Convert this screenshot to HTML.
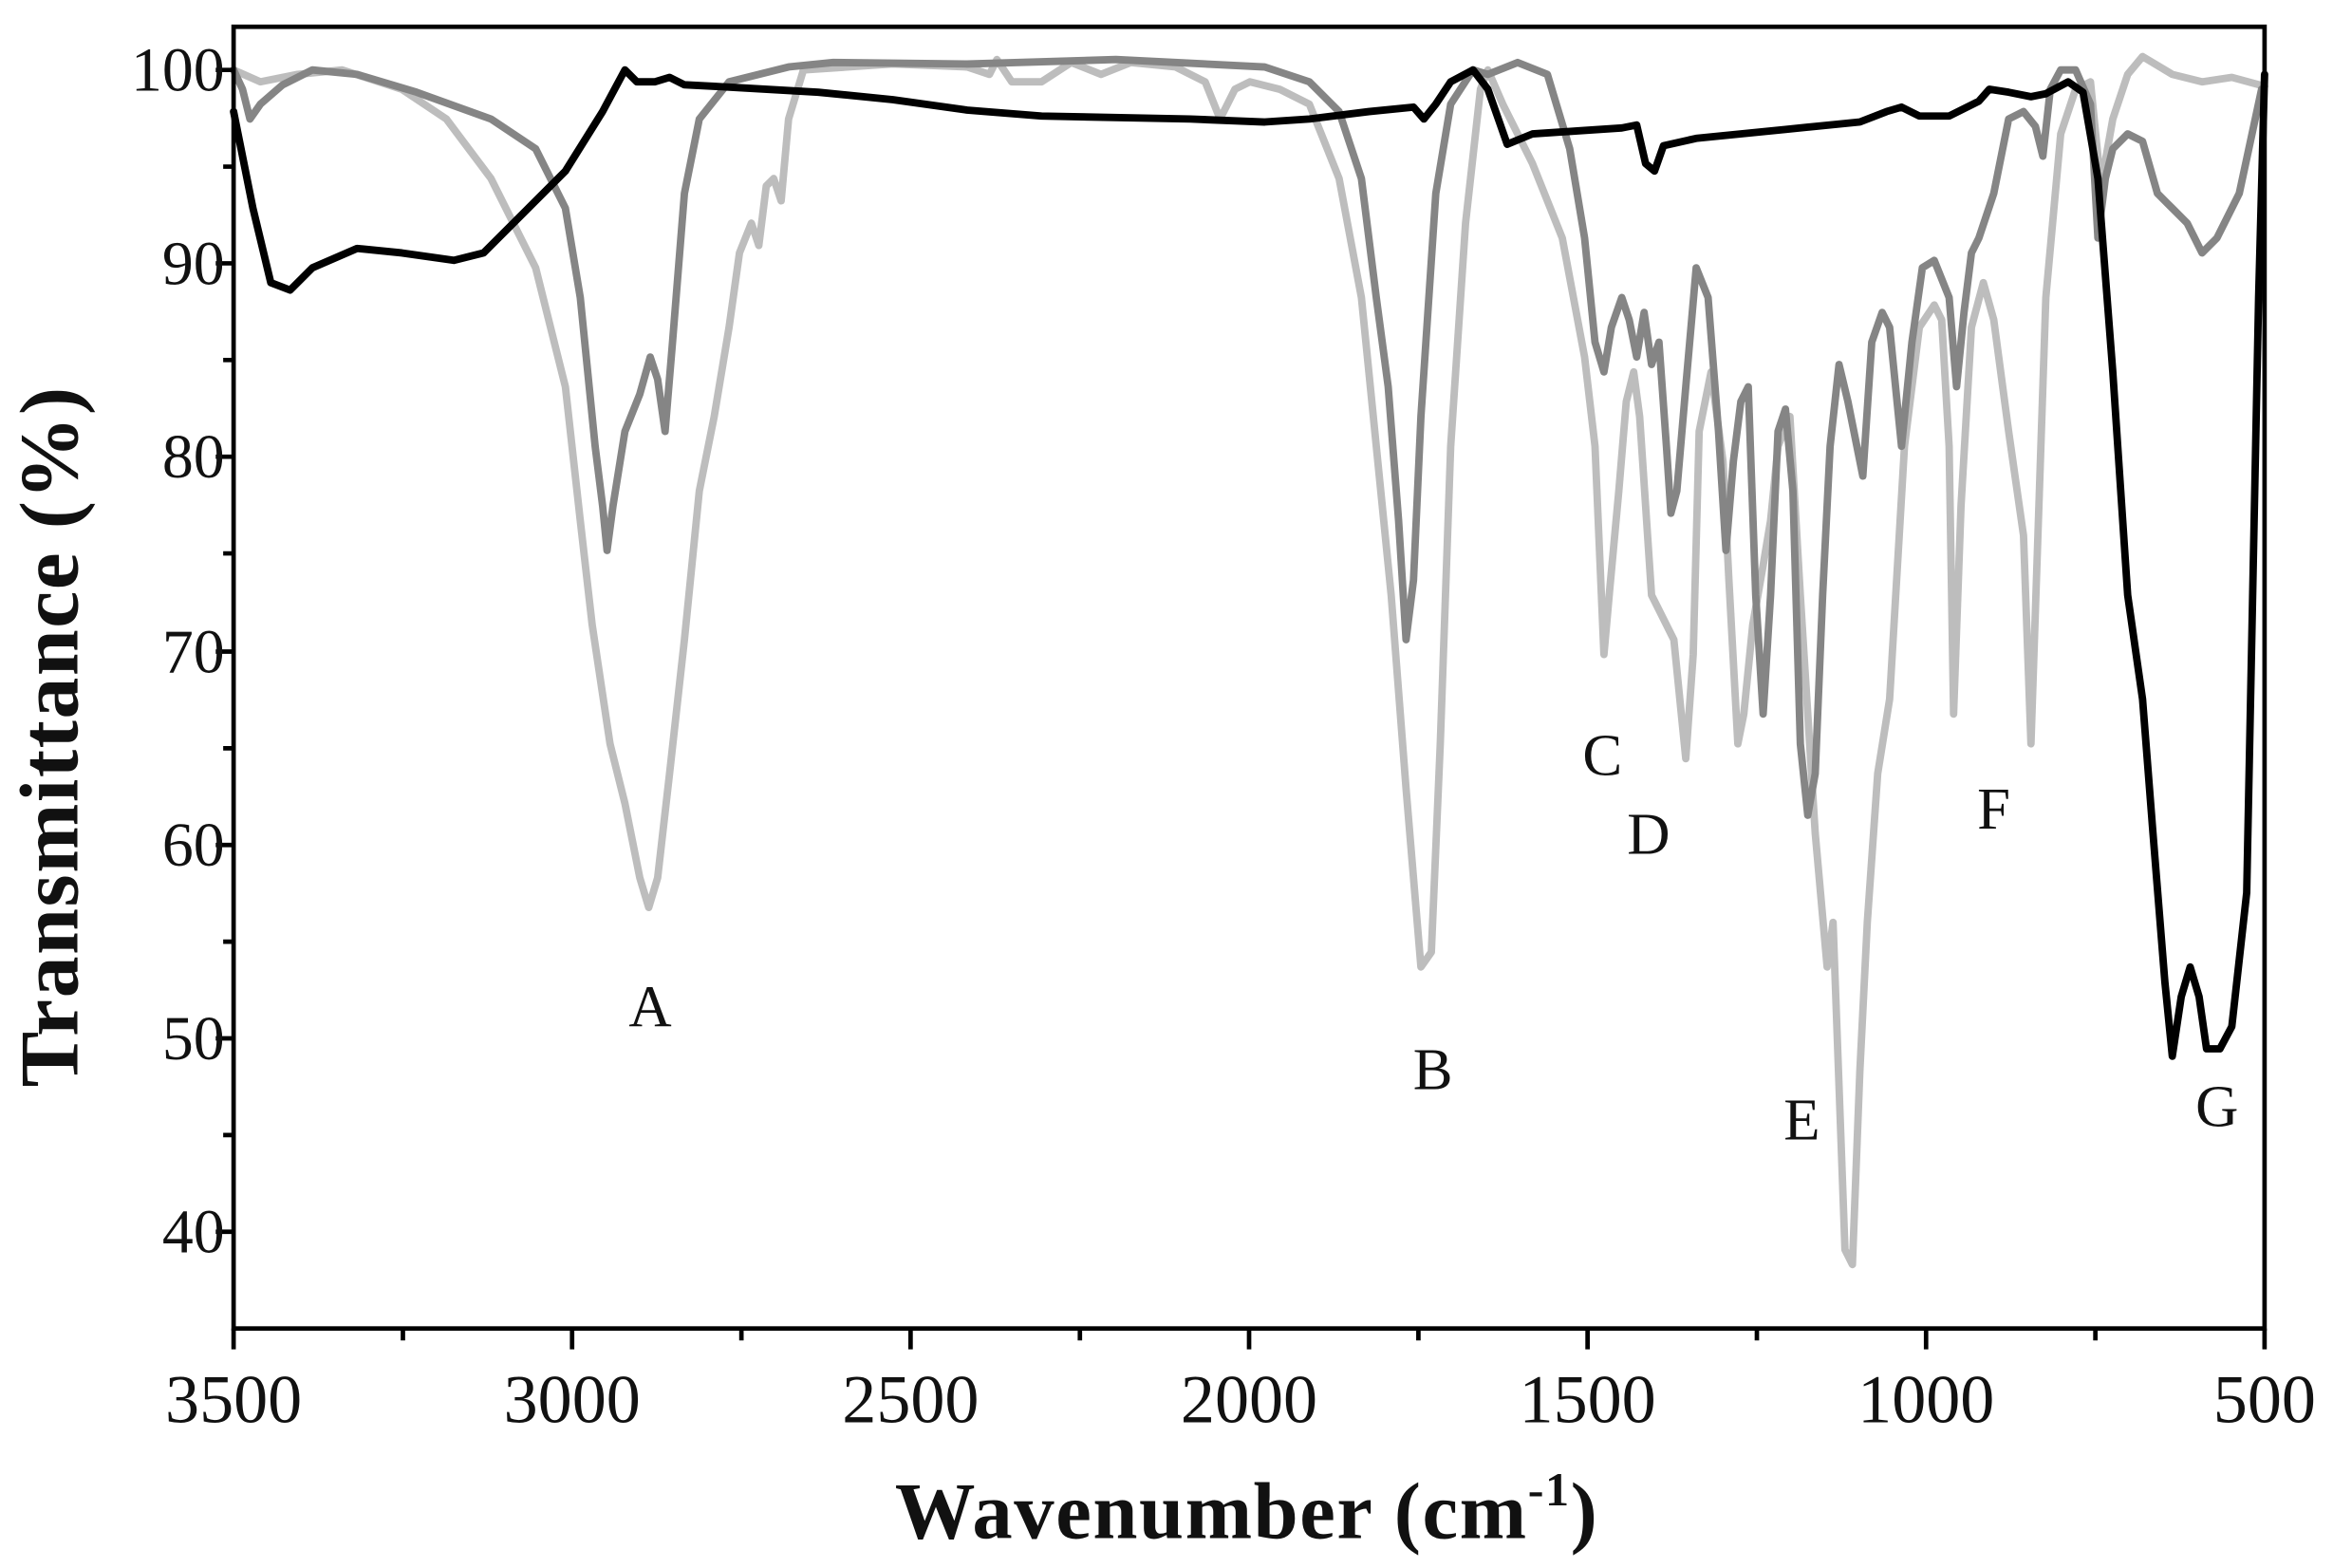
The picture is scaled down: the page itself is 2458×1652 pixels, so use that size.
<!DOCTYPE html>
<html><head><style>html,body{margin:0;padding:0;background:#fff}svg{display:block}</style></head>
<body>
<svg width="2458" height="1652" viewBox="0 0 1568 1054" preserveAspectRatio="none" xmlns="http://www.w3.org/2000/svg">
<rect width="1568" height="1054" fill="#fff"/>
<g fill="none" stroke-linejoin="round" stroke-linecap="round" stroke-width="5">
<polyline stroke="#bdbdbd" points="157,47 175,55 200,50 230,47 270,60 300,80 330,120 360,180 380,260 390,350 398,420 410,500 420,540 430,590 436,610 442,590 450,520 460,430 470,330 480,280 490,220 497,170 505,150 510,165 515,125 520,120 525,135 530,80 540,47 600,43 650,45 665,50 670,40 680,55 700,55 720,42 740,50 760,42 790,45 810,55 820,80 830,60 840,55 860,60 880,70 900,120 915,200 925,300 935,400 945,530 955,650 962,640 968,500 975,300 985,150 995,60 1000,47 1010,70 1030,110 1050,160 1065,240 1072,300 1078,440 1082,395 1088,330 1093,270 1098,250 1102,280 1110,400 1125,430 1133,510 1138,440 1142,290 1150,250 1158,310 1162,390 1168,500 1172,480 1178,420 1185,380 1190,350 1195,300 1203,280 1210,400 1220,560 1228,650 1232,620 1240,840 1245,850 1250,720 1255,620 1262,520 1270,470 1280,300 1290,220 1300,205 1305,215 1310,300 1313,480 1318,340 1325,220 1333,190 1340,215 1350,290 1360,360 1365,500 1370,350 1375,200 1385,90 1395,60 1405,55 1412,125 1420,80 1430,50 1440,38 1460,50 1480,55 1500,52 1522,58"/>
<polyline stroke="#858585" points="157,47 163,60 168,80 175,70 190,57 210,47 240,50 280,62 330,80 360,100 380,140 390,200 400,300 405,340 408,370 412,340 420,290 430,265 437,240 442,255 447,290 452,230 460,130 470,80 490,55 530,45 560,42 650,43 750,40 850,45 880,55 900,75 915,120 925,200 933,260 940,350 945,430 950,390 955,280 965,130 975,70 990,47 1000,50 1020,42 1040,50 1055,100 1065,160 1072,230 1078,250 1083,220 1090,200 1095,215 1100,240 1105,210 1110,245 1115,230 1120,300 1123,345 1127,330 1133,260 1140,180 1148,200 1155,290 1160,370 1165,310 1170,270 1175,260 1180,400 1185,480 1190,400 1195,290 1200,275 1205,330 1210,500 1215,548 1220,520 1225,400 1230,300 1236,245 1242,270 1248,300 1252,320 1258,230 1265,210 1270,220 1278,300 1285,230 1292,180 1300,175 1310,200 1315,260 1320,210 1325,170 1330,160 1340,130 1350,80 1360,75 1368,85 1373,105 1378,60 1385,47 1395,47 1405,70 1410,160 1415,120 1420,100 1430,90 1440,95 1450,130 1460,140 1470,150 1480,170 1490,160 1505,130 1520,60"/>
<polyline stroke="#000" points="157,75 170,140 182,190 195,195 210,180 240,167 270,170 305,175 325,170 345,150 380,115 405,75 420,47 428,55 440,55 450,52 460,57 480,58 550,62 600,67 650,74 700,78 800,80 850,82 880,80 920,75 950,72 957,80 965,70 975,55 990,47 1000,60 1013,97 1030,90 1060,88 1090,86 1100,84 1106,110 1112,115 1118,98 1140,93 1200,87 1250,82 1268,75 1278,72 1290,78 1310,78 1330,68 1337,60 1350,62 1365,65 1375,63 1390,55 1400,62 1410,120 1420,250 1430,400 1440,470 1447,560 1455,660 1460,710 1466,670 1472,650 1478,670 1483,705 1492,705 1500,690 1510,600 1518,200 1522,50"/>
</g>
<g stroke="#000" stroke-width="3" fill="none">
<rect x="157" y="18" width="1365" height="875"/>
<path d="M157,47h-12M157,177h-12M157,307h-12M157,438h-12M157,568h-12M157,698h-12M157,828h-12M157,112h-7M157,242h-7M157,372h-7M157,503h-7M157,633h-7M157,763h-7"/>
<path d="M157,893v14M384.5,893v14M612,893v14M839.5,893v14M1067,893v14M1294.5,893v14M1522,893v14M270.8,893v8M498.3,893v8M725.8,893v8M953.3,893v8M1180.8,893v8M1408.3,893v8"/>
</g>
<g font-family="Liberation Serif, serif" font-size="42" fill="#111" text-anchor="end">
<text x="151" y="61">100</text><text x="151" y="191">90</text><text x="151" y="321">80</text><text x="151" y="452">70</text><text x="151" y="582">60</text><text x="151" y="712">50</text><text x="151" y="842">40</text>
</g>
<g font-family="Liberation Serif, serif" font-size="46" fill="#111" text-anchor="middle">
<text x="157" y="956">3500</text><text x="384.5" y="956">3000</text><text x="612" y="956">2500</text><text x="839.5" y="956">2000</text><text x="1067" y="956">1500</text><text x="1294.5" y="956">1000</text><text x="1522" y="956">500</text>
</g>
<g font-family="Liberation Serif, serif" font-size="40" fill="#111" text-anchor="middle">
<text x="437" y="690">A</text><text x="963" y="732">B</text><text x="1077" y="521">C</text><text x="1108" y="574">D</text><text x="1211" y="766">E</text><text x="1340" y="557">F</text><text x="1490" y="757">G</text>
</g>
<text x="838" y="1034" font-family="Liberation Serif, serif" font-weight="bold" font-size="54" text-anchor="middle" fill="#111" letter-spacing="1">Wavenumber (cm<tspan font-size="32" dy="-22">-1</tspan><tspan dy="22">)</tspan></text>
<text transform="translate(52,495) rotate(-90)" font-family="Liberation Serif, serif" font-weight="bold" font-size="56" text-anchor="middle" fill="#111" letter-spacing="1">Transmittance (%)</text>
</svg>
</body></html>
